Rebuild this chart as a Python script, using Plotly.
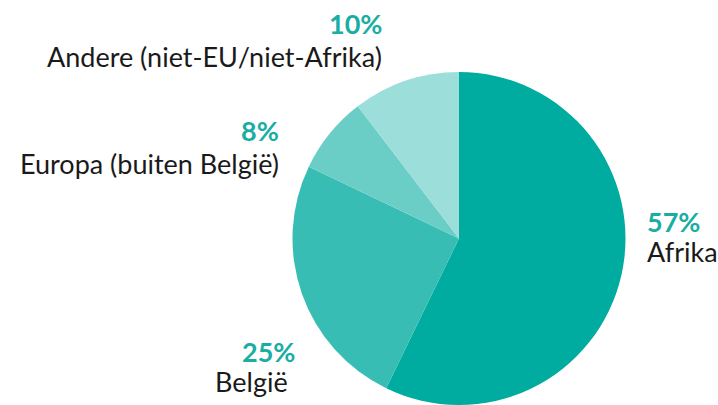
import plotly.graph_objects as go

labels = ["Afrika", "België", "Europa (buiten België)", "Andere (niet-EU/niet-Afrika)"]
values = [57.2, 24.9, 7.5, 10.4]
pct_labels = ["57%", "25%", "8%", "10%"]
colors = ["#00ACA0", "#38BDB5", "#6ACDC6", "#9CDED9"]

W, H = 718, 405
FONT = "Lato"
FS_NAME = 27
FS_PCT = 27
TEAL = "#1AADA3"

fig = go.Figure(go.Pie(
    labels=labels, values=values, sort=False, direction="clockwise", rotation=0,
    marker=dict(colors=colors, line=dict(width=0)),
    textinfo="none", hoverinfo="label+percent",
    domain=dict(x=[292 / W, 626 / W], y=[0, 1 - 72 / H]),
    showlegend=False,
))

# label anchor positions (pixels): (x_pct, y_pct, x_name, y_name, side)
label_pos = {
    "Afrika": (645, 221, 645, 251, "left"),
    "België": (297, 351, 290, 381, "right"),
    "Europa (buiten België)": (281, 130, 281, 163, "right"),
    "Andere (niet-EU/niet-Afrika)": (384, 23, 384, 56, "right"),
}

annotations = []
for lab, pct in zip(labels, pct_labels):
    xp, yp, xn, yn, side = label_pos[lab]
    annotations.append(dict(
        x=xp / W, y=1 - yp / H, xref="paper", yref="paper", text=f"<b>{pct}</b>",
        showarrow=False, xanchor=side, yanchor="middle",
        font=dict(family=FONT, size=FS_PCT, color=TEAL)))
    annotations.append(dict(
        x=xn / W, y=1 - yn / H, xref="paper", yref="paper", text=lab,
        showarrow=False, xanchor=side, yanchor="middle",
        font=dict(family=FONT, size=FS_NAME, color="#1a1a1a")))

fig.update_layout(
    width=W, height=H, margin=dict(l=0, r=0, t=0, b=0),
    paper_bgcolor="white", plot_bgcolor="white",
    annotations=annotations,
)

fig.write_html("out.html", config={"displayModeBar": False},
               post_script="document.body.style.margin='0';")
